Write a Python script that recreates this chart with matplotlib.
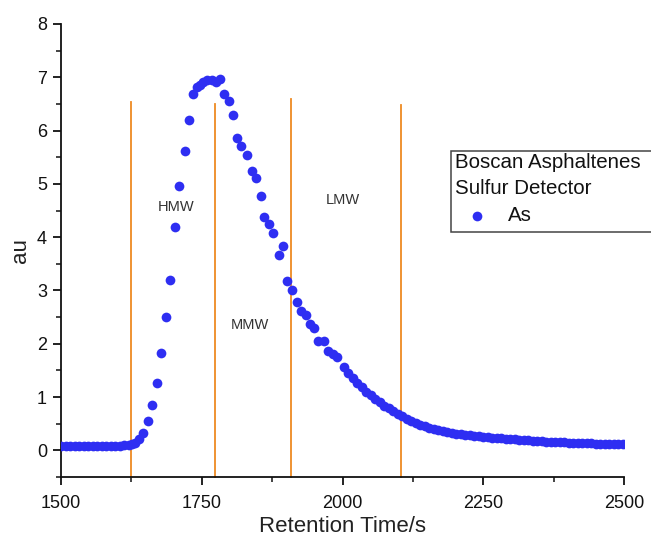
import matplotlib
matplotlib.use("Agg")
import matplotlib.pyplot as plt
from matplotlib.patches import Rectangle
from matplotlib.lines import Line2D
from matplotlib.ticker import MultipleLocator

plt.rcParams['font.family'] = ['Liberation Sans', 'DejaVu Sans']

# Retention time (s) and sulfur detector signal (au)
retention_time = [
    1500, 1508, 1516, 1524, 1532, 1540, 1548, 1556, 1564, 1572, 1580, 1588,
    1596, 1604, 1612, 1620, 1626, 1631, 1639, 1646, 1655, 1662, 1671, 1678,
    1687, 1694, 1703, 1710, 1720, 1727, 1734, 1741, 1747, 1753, 1760, 1768,
    1775, 1782, 1790, 1798, 1806, 1813, 1820, 1830, 1839, 1846, 1855, 1861,
    1869, 1877, 1887, 1894, 1902, 1911, 1919, 1927, 1935, 1943, 1950, 1957,
    1967, 1975, 1983, 1991, 2002, 2010, 2018, 2026, 2034, 2042, 2050, 2058,
    2066, 2074, 2082, 2090, 2098, 2106, 2114, 2122, 2130, 2138, 2146, 2154,
    2162, 2170, 2178, 2186, 2194, 2202, 2210, 2218, 2226, 2234, 2242, 2250,
    2258, 2266, 2274, 2282, 2290, 2298, 2306, 2314, 2322, 2330, 2338, 2346,
    2354, 2362, 2370, 2378, 2386, 2394, 2402, 2410, 2418, 2426, 2434, 2442,
    2450, 2458, 2466, 2474, 2482, 2490, 2498,
]
signal_as = [
    0.09, 0.08, 0.09, 0.09, 0.08, 0.09, 0.09, 0.08, 0.09, 0.09, 0.09, 0.08,
    0.09, 0.09, 0.10, 0.10, 0.11, 0.14, 0.21, 0.33, 0.55, 0.85, 1.27, 1.83,
    2.50, 3.20, 4.19, 4.96, 5.61, 6.19, 6.68, 6.82, 6.86, 6.91, 6.94, 6.95,
    6.92, 6.97, 6.68, 6.56, 6.30, 5.87, 5.72, 5.55, 5.24, 5.11, 4.77, 4.37,
    4.25, 4.07, 3.67, 3.84, 3.17, 3.00, 2.78, 2.62, 2.54, 2.38, 2.29, 2.06,
    2.06, 1.87, 1.80, 1.75, 1.57, 1.46, 1.35, 1.26, 1.18, 1.10, 1.03, 0.96,
    0.90, 0.84, 0.79, 0.74, 0.69, 0.64, 0.59, 0.55, 0.51, 0.48, 0.45, 0.42,
    0.40, 0.38, 0.36, 0.34, 0.33, 0.31, 0.30, 0.29, 0.28, 0.27, 0.26, 0.25,
    0.245, 0.24, 0.23, 0.225, 0.22, 0.21, 0.205, 0.20, 0.19, 0.185, 0.18, 0.175,
    0.17, 0.165, 0.16, 0.155, 0.15, 0.15, 0.145, 0.14, 0.14, 0.135, 0.13, 0.13,
    0.125, 0.12, 0.12, 0.115, 0.115, 0.11, 0.11,
]

# Fraction boundaries (s) and the heights of the boundary lines (au)
cut_times = [1624, 1773, 1909, 2104]
cut_tops = [6.53, 6.50, 6.59, 6.48]

# Fraction labels and their positions
fraction_names = ["HMW", "MMW", "LMW"]
fraction_x = [1704, 1836, 2001]
fraction_y = [4.56, 2.36, 4.69]

W, H = 651, 544
fig = plt.figure(figsize=(W / 100, H / 100), dpi=100)
ax = fig.add_axes([61 / W, 1 - 477 / H, (624 - 61) / W, (477 - 24) / H])

blue = '#2E2EF2'
orange = '#EE8A22'

ax.plot(retention_time, signal_as, 'o', color=blue, markersize=7,
        markeredgewidth=0, zorder=3)

for t, top in zip(cut_times, cut_tops):
    ax.plot([t, t], [-0.5, top], color=orange, linewidth=1.3, zorder=2,
            clip_on=False)

for name, x, y in zip(fraction_names, fraction_x, fraction_y):
    ax.text(x, y, name, fontsize=10.5, color='#333333', ha='center',
            va='center', zorder=4)

ax.set_xlim(1500, 2500)
ax.set_ylim(-0.5, 8)
ax.xaxis.set_major_locator(MultipleLocator(250))
ax.xaxis.set_minor_locator(MultipleLocator(125))
ax.yaxis.set_major_locator(MultipleLocator(1))
ax.yaxis.set_minor_locator(MultipleLocator(0.5))

for side in ('top', 'right'):
    ax.spines[side].set_visible(False)
for side in ('left', 'bottom'):
    ax.spines[side].set_linewidth(1.3)
    ax.spines[side].set_color('#111111')

ax.tick_params(which='major', direction='out', length=6, width=1.3,
               labelsize=13, colors='#111111')
ax.tick_params(which='minor', direction='out', length=3.5, width=1.1,
               colors='#111111')
ax.tick_params(axis='x', which='major', pad=7)
ax.tick_params(axis='y', which='major', pad=4)

ax.set_xlabel('Retention Time/s', fontsize=16, color='#222222', labelpad=3)
ax.set_ylabel('au', fontsize=16, color='#222222', labelpad=4)

# Legend drawn by hand in pixel coordinates
def px(x, y):
    return x / W, 1 - y / H

x0, y0 = px(451, 232)
x1, y1 = px(662, 151)
fig.patches.append(Rectangle((x0, y0), x1 - x0, y1 - y0,
                             transform=fig.transFigure, fill=True,
                             facecolor='white', edgecolor='#444444',
                             linewidth=1.1, zorder=5))
fig.text(*px(455, 162), 'Boscan Asphaltenes', fontsize=14.8,
         color='#111111', ha='left', va='center', zorder=6)
fig.text(*px(455, 188), 'Sulfur Detector', fontsize=14.8,
         color='#111111', ha='left', va='center', zorder=6)
fig.lines.append(Line2D([477 / W], [1 - 216 / H], marker='o',
                        color=blue, markersize=7, markeredgewidth=0,
                        transform=fig.transFigure, zorder=6))
fig.text(*px(508, 216), 'As', fontsize=14.8, color='#111111',
         ha='left', va='center', zorder=6)

fig.savefig('out.png', dpi=100)
